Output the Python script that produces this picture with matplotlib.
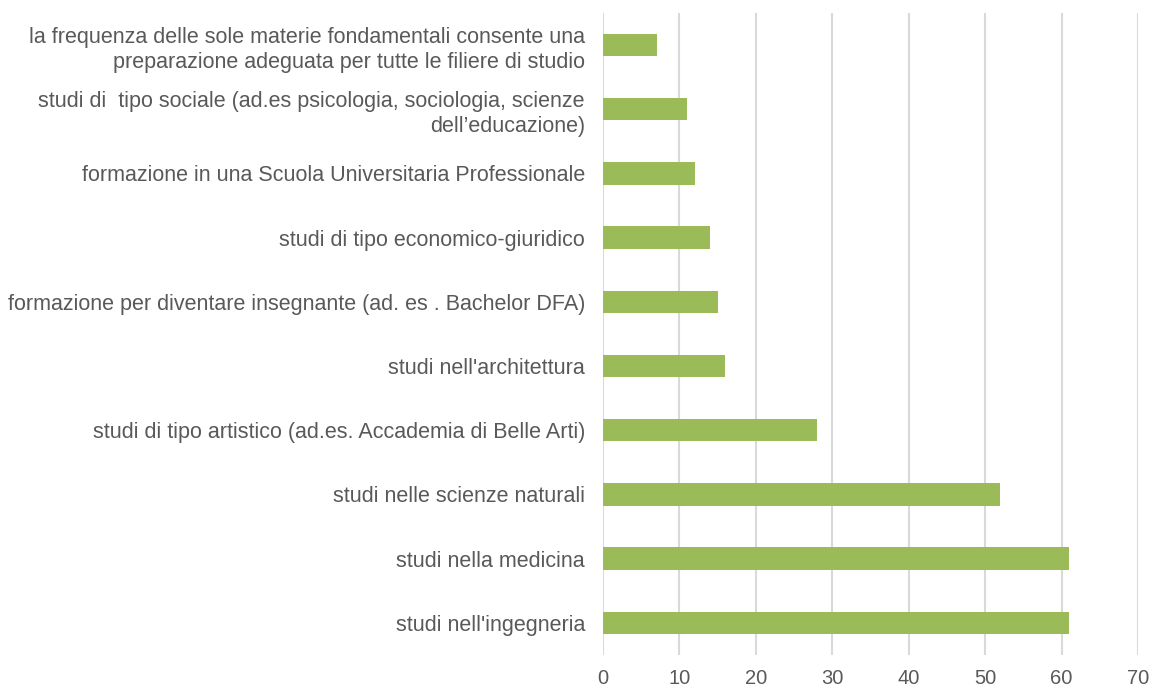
import matplotlib
matplotlib.use("Agg")
import matplotlib.pyplot as plt

plt.rcParams['font.family'] = ['Liberation Sans', 'DejaVu Sans']

# categorie dal basso verso l'alto
categorie = [
    "studi nell'ingegneria",
    "studi nella medicina",
    "studi nelle scienze naturali",
    "studi di tipo artistico (ad.es. Accademia di Belle Arti)",
    "studi nell'architettura",
    "formazione per diventare insegnante (ad. es . Bachelor DFA)",
    "studi di tipo economico-giuridico",
    "formazione in una Scuola Universitaria Professionale",
    "studi di  tipo sociale (ad.es psicologia, sociologia, scienze\ndell\u2019educazione)",
    "la frequenza delle sole materie fondamentali consente una\npreparazione adeguata per tutte le filiere di studio",
]
valori = [61, 61, 52, 28, 16, 15, 14, 12, 11, 7]
xticks = [0, 10, 20, 30, 40, 50, 60, 70]

fig = plt.figure(figsize=(11.53, 6.86), dpi=100)
ax = fig.add_axes([0.523, 0.0452, 0.464, 0.936])

y = range(len(categorie))
ax.barh(y, valori, height=0.35, color='#9bbb59', zorder=3)

ax.set_xlim(0, 70)
ax.set_ylim(-0.5, len(categorie) - 0.5)
ax.set_xticks(xticks)
ax.set_yticks(list(y))
ax.set_yticklabels(categorie, fontsize=15.5, color='#595959', linespacing=1.25)
ax.tick_params(axis='x', labelsize=14.5, colors='#595959', length=0, pad=10)
ax.tick_params(axis='y', length=0, pad=13)

ax.grid(axis='x', color='#d9d9d9', linewidth=1.5, zorder=0)
for s in ['top', 'right', 'bottom', 'left']:
    ax.spines[s].set_visible(False)

fig.savefig('out.png', dpi=100)
